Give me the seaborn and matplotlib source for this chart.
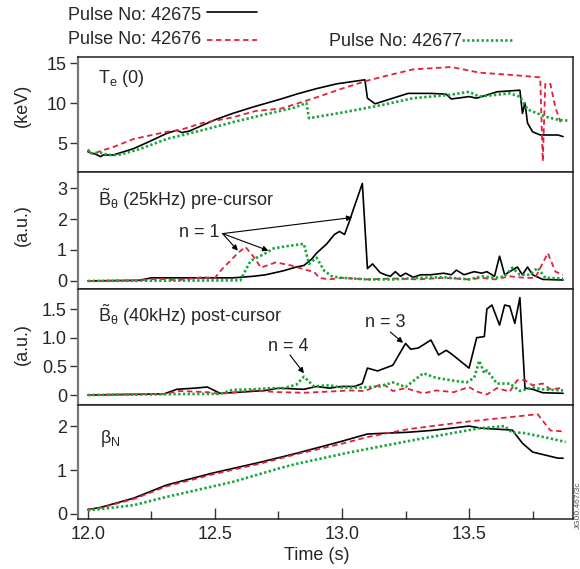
import numpy as np
import pandas as pd
import matplotlib
matplotlib.use("Agg")
import matplotlib.pyplot as plt
import seaborn as sns
from matplotlib.lines import Line2D
from matplotlib.ticker import MultipleLocator, FixedLocator

# ---------------- data ----------------
pulses = ["42675", "42676", "42677"]

# Te(0) keV
te_t_42675 = [12.00, 12.03, 12.05, 12.06, 12.10, 12.18, 12.25, 12.31, 12.35, 12.37, 12.40, 12.50, 12.57, 12.65,
              12.76, 12.82, 12.90, 12.98, 13.09, 13.10, 13.13, 13.20, 13.26, 13.35, 13.41, 13.43, 13.50, 13.53,
              13.61, 13.70, 13.71, 13.72, 13.73, 13.75, 13.78, 13.85, 13.87]
te_v_42675 = [3.9, 3.6, 3.3, 3.5, 3.5, 4.3, 5.3, 6.2, 6.6, 6.3, 6.5, 7.9, 8.7, 9.5,
              10.5, 11.1, 11.8, 12.4, 12.9, 10.6, 9.9, 10.6, 11.2, 11.2, 11.1, 10.5, 10.8, 10.6,
              11.4, 11.6, 8.7, 10.0, 7.5, 6.4, 6.0, 6.0, 5.8]
te_t_42676 = [12.00, 12.02, 12.05, 12.10, 12.18, 12.31, 12.36, 12.45, 12.57, 12.66, 12.76, 12.89, 13.00, 13.10,
              13.20, 13.28, 13.43, 13.54, 13.67, 13.78, 13.79, 13.80, 13.82, 13.84, 13.86]
te_v_42676 = [4.0, 3.6, 4.0, 4.5, 5.5, 6.4, 6.6, 7.5, 8.2, 9.0, 9.3, 10.6, 11.8, 12.8,
              13.6, 14.2, 14.5, 13.8, 13.5, 13.2, 2.7, 12.4, 12.4, 9.4, 7.6]
te_t_42677 = [12.00, 12.01, 12.05, 12.08, 12.12, 12.20, 12.31, 12.45, 12.57, 12.70, 12.81, 12.86, 12.87, 13.00,
              13.15, 13.28, 13.42, 13.50, 13.54, 13.60, 13.66, 13.70, 13.73, 13.80, 13.85, 13.89]
te_v_42677 = [4.2, 3.7, 3.8, 3.5, 3.5, 4.2, 5.5, 6.6, 7.6, 8.6, 9.4, 10.0, 8.1, 8.8,
              9.7, 10.6, 11.0, 11.4, 10.8, 11.0, 11.2, 10.8, 9.2, 8.3, 7.9, 7.8]

# B_theta 25 kHz (a.u.)
b25_t_42675 = [12.00, 12.20, 12.25, 12.40, 12.50, 12.57, 12.65, 12.70, 12.77, 12.82, 12.85, 12.88, 12.90, 12.94,
               12.97, 12.99, 13.01, 13.03, 13.04, 13.08, 13.10, 13.12, 13.15, 13.17, 13.19, 13.21, 13.23, 13.25,
               13.28, 13.31, 13.35, 13.40, 13.43, 13.45, 13.48, 13.52, 13.55, 13.57, 13.60, 13.62, 13.64, 13.69,
               13.71, 13.73, 13.75, 13.79, 13.87]
b25_v_42675 = [0.0, 0.02, 0.1, 0.1, 0.1, 0.1, 0.15, 0.2, 0.33, 0.45, 0.5, 0.7, 0.9, 1.2,
               1.5, 1.6, 1.5, 1.95, 2.2, 3.15, 0.4, 0.55, 0.27, 0.2, 0.15, 0.3, 0.15, 0.25,
               0.12, 0.2, 0.2, 0.25, 0.2, 0.35, 0.2, 0.3, 0.25, 0.3, 0.15, 0.8, 0.2, 0.45,
               0.2, 0.45, 0.2, 0.05, 0.03]
b25_t_42676 = [12.00, 12.20, 12.28, 12.35, 12.45, 12.50, 12.53, 12.59, 12.62, 12.66, 12.68, 12.74, 12.80, 12.86,
               12.89, 12.91, 12.95, 13.00, 13.10, 13.20, 13.30, 13.40, 13.50, 13.55, 13.60, 13.66, 13.72, 13.76,
               13.81, 13.84, 13.87]
b25_v_42676 = [0.0, 0.02, 0.07, 0.02, 0.12, 0.1, 0.4, 0.9, 1.1, 0.7, 0.43, 0.6, 0.5, 0.35,
               0.3, 0.1, 0.05, 0.1, 0.05, 0.08, 0.05, 0.1, 0.05, 0.1, 0.05, 0.15, 0.1, 0.1,
               0.9, 0.3, 0.2]
b25_t_42677 = [12.00, 12.60, 12.64, 12.70, 12.73, 12.78, 12.85, 12.87, 12.90, 12.93, 12.96, 13.00, 13.10, 13.20,
               13.30, 13.40, 13.50, 13.55, 13.60, 13.64, 13.67, 13.70, 13.74, 13.77, 13.80, 13.87]
b25_v_42677 = [0.0, 0.02, 0.65, 0.9, 1.05, 1.12, 1.2, 0.55, 0.75, 0.33, 0.15, 0.1, 0.05, 0.05,
               0.1, 0.12, 0.05, 0.15, 0.1, 0.15, 0.43, 0.2, 0.2, 0.43, 0.1, 0.08]

# B_theta 40 kHz (a.u.)
b40_t_42675 = [12.00, 12.30, 12.35, 12.42, 12.47, 12.52, 12.60, 12.70, 12.75, 12.85, 12.90, 12.95, 13.00, 13.05,
               13.08, 13.10, 13.14, 13.20, 13.25, 13.27, 13.30, 13.35, 13.38, 13.41, 13.43, 13.50, 13.53, 13.56,
               13.57, 13.59, 13.62, 13.64, 13.66, 13.68, 13.70, 13.72, 13.75, 13.79, 13.87]
b40_v_42675 = [0.0, 0.02, 0.1, 0.12, 0.14, 0.03, 0.05, 0.08, 0.12, 0.1, 0.15, 0.12, 0.15, 0.15,
               0.2, 0.47, 0.42, 0.52, 0.9, 0.8, 0.82, 0.96, 0.7, 0.78, 0.72, 0.47, 1.0, 1.02,
               1.5, 1.57, 1.22, 1.57, 1.55, 1.25, 1.7, 0.12, 0.1, 0.04, 0.03]
b40_t_42676 = [12.00, 12.30, 12.36, 12.47, 12.52, 12.65, 12.75, 12.85, 12.95, 13.03, 13.09, 13.16, 13.20, 13.25,
               13.32, 13.37, 13.44, 13.50, 13.53, 13.57, 13.61, 13.66, 13.69, 13.72, 13.75, 13.79, 13.82, 13.86]
b40_v_42676 = [0.0, 0.02, 0.07, 0.05, 0.02, 0.08, 0.05, 0.04, 0.06, 0.08, 0.07, 0.2, 0.07, 0.12,
               0.03, 0.08, 0.05, 0.14, 0.06, 0.01, 0.12, 0.06, 0.26, 0.26, 0.17, 0.2, 0.1, 0.12]
b40_t_42677 = [12.00, 12.45, 12.52, 12.57, 12.65, 12.72, 12.77, 12.82, 12.85, 12.89, 12.95, 13.00, 13.07, 13.15,
               13.20, 13.25, 13.32, 13.37, 13.44, 13.49, 13.52, 13.54, 13.56, 13.57, 13.61, 13.66, 13.70, 13.75,
               13.79, 13.87]
b40_v_42677 = [0.0, 0.02, 0.02, 0.09, 0.1, 0.12, 0.12, 0.18, 0.32, 0.15, 0.17, 0.13, 0.13, 0.15,
               0.22, 0.14, 0.38, 0.3, 0.25, 0.22, 0.3, 0.6, 0.38, 0.43, 0.2, 0.2, 0.07, 0.13,
               0.1, 0.08]

# beta_N
bn_t_42675 = [12.00, 12.05, 12.18, 12.31, 12.49, 12.68, 12.82, 12.99, 13.10, 13.26, 13.35, 13.50, 13.55, 13.67,
              13.71, 13.75, 13.85, 13.87]
bn_v_42675 = [0.1, 0.15, 0.36, 0.66, 0.93, 1.18, 1.38, 1.64, 1.82, 1.86, 1.9, 2.0, 1.95, 1.91,
              1.61, 1.41, 1.27, 1.27]
bn_t_42676 = [12.00, 12.05, 12.18, 12.31, 12.49, 12.68, 12.82, 13.00, 13.10, 13.26, 13.49, 13.77, 13.82, 13.87]
bn_v_42676 = [0.1, 0.14, 0.34, 0.63, 0.9, 1.15, 1.36, 1.6, 1.75, 1.93, 2.1, 2.27, 1.9, 1.88]
bn_t_42677 = [12.00, 12.18, 12.31, 12.57, 12.76, 12.82, 13.02, 13.28, 13.54, 13.64, 13.67, 13.71, 13.81, 13.88]
bn_v_42677 = [0.08, 0.2, 0.39, 0.73, 1.05, 1.14, 1.39, 1.68, 1.95, 2.0, 1.85, 1.85, 1.73, 1.64]

xtick_labels = ["12.0", "12.5", "13.0", "13.5"]

# ---------------- style ----------------
sns.set_theme(style="white")
plt.rcParams["font.family"] = ["Liberation Sans", "DejaVu Sans"]
plt.rcParams["mathtext.fontset"] = "custom"
plt.rcParams["mathtext.rm"] = "Liberation Sans"
plt.rcParams["mathtext.it"] = "Liberation Sans"
plt.rcParams["mathtext.bf"] = "Liberation Sans:bold"
plt.rcParams["mathtext.default"] = "regular"

RED = "#e3203c"
GREEN = "#16a63a"
styles = {
    "42675": dict(color="black", linewidth=1.2, linestyle="-"),
    "42676": dict(color=RED, linewidth=1.3, linestyle=(0, (3, 2))),
    "42677": dict(color=GREEN, linewidth=1.9, linestyle=(0, (0.9, 0.9))),
}

W, H = 580, 569
fig = plt.figure(figsize=(W / 100, H / 100), dpi=100)
fig.patch.set_facecolor("white")

L, R = 78, 573
bounds = [(57, 172), (172, 289), (289, 405), (405, 519)]
axes = [fig.add_axes([L / W, 1 - b / H, (R - L) / W, (b - t) / H]) for t, b in bounds]

panels = [
    ((te_t_42675, te_v_42675), (te_t_42676, te_v_42676), (te_t_42677, te_v_42677)),
    ((b25_t_42675, b25_v_42675), (b25_t_42676, b25_v_42676), (b25_t_42677, b25_v_42677)),
    ((b40_t_42675, b40_v_42675), (b40_t_42676, b40_v_42676), (b40_t_42677, b40_v_42677)),
    ((bn_t_42675, bn_v_42675), (bn_t_42676, bn_v_42676), (bn_t_42677, bn_v_42677)),
]
ylims = [(1.375, 15.75), (-0.26, 3.52), (-0.174, 1.85), (-0.114, 2.48)]
yticks = [[5, 10, 15], [0, 1, 2, 3], [0, 0.5, 1.0, 1.5], [0, 1, 2]]
yticklabels = [["5", "10", "15"], ["0", "1", "2", "3"], ["0", "0.5", "1.0", "1.5"], ["0", "1", "2"]]

for ax, series, yl, yt, ytl in zip(axes, panels, ylims, yticks, yticklabels):
    # draw in order: green, red, black? reference shows black on top mostly
    for p, (tt, vv) in zip(pulses, series):
        df = pd.DataFrame({"t": tt, "v": vv})
        sns.lineplot(data=df, x="t", y="v", ax=ax, estimator=None, sort=False,
                     legend=False, **styles[p])
    ax.set_xlim(11.961, 13.909)
    ax.set_ylim(*yl)
    ax.set_xlabel("")
    ax.set_ylabel("")
    ax.set_facecolor("white")
    ax.yaxis.set_major_locator(FixedLocator(yt))
    ax.set_yticklabels(ytl)
    ax.tick_params(axis="y", which="both", direction="out", length=6, width=1,
                   left=True, right=False, labelsize=13, pad=2, color="#333333")
    for s in ax.spines.values():
        s.set_color("#222222")
        s.set_linewidth(1.1)
    ax.spines["left"].set_color("#777777")
    ax.spines["left"].set_linewidth(1.6)

for ax in axes[:3]:
    ax.tick_params(axis="x", which="both", bottom=False, labelbottom=False)

axb = axes[3]
axb.xaxis.set_major_locator(FixedLocator([12.0, 12.5, 13.0, 13.5]))
axb.set_xticklabels(xtick_labels)
axb.xaxis.set_minor_locator(FixedLocator([12.25, 12.75, 13.25, 13.75]))
axb.tick_params(axis="x", which="major", direction="in", length=8, width=1, bottom=True,
                labelsize=13, pad=5, color="#333333")
axb.tick_params(axis="x", which="minor", direction="in", length=6, width=1, bottom=True,
                color="#333333")

# panel titles
axes[0].text(0.04, 0.81, r"$T_e$ (0)", transform=axes[0].transAxes, fontsize=13, va="center", ha="left")
axes[1].text(0.04, 0.77, r"$\tilde{B}_\theta$ (25kHz) pre-cursor", transform=axes[1].transAxes,
             fontsize=13, va="center", ha="left")
axes[2].text(0.04, 0.77, r"$\tilde{B}_\theta$ (40kHz) post-cursor", transform=axes[2].transAxes,
             fontsize=13, va="center", ha="left")
axes[3].text(0.045, 0.71, r"$\beta_N$", transform=axes[3].transAxes, fontsize=13, va="center", ha="left")

# annotations
arrow = dict(arrowstyle="-|>", lw=0.8, color="black", mutation_scale=8, shrinkA=0, shrinkB=0)
a1 = axes[1]
a1.text(12.44, 1.56, "n = 1", fontsize=13, ha="center", va="center")
for target in [(12.59, 0.98), (12.71, 0.98), (13.04, 2.05)]:
    a1.annotate("", xy=target, xytext=(12.53, 1.53), arrowprops=arrow)
a2 = axes[2]
a2.text(12.787, 0.84, "n = 4", fontsize=13, ha="center", va="center")
a2.annotate("", xy=(12.85, 0.38), xytext=(12.795, 0.70), arrowprops=arrow)
a2.text(13.17, 1.27, "n = 3", fontsize=13, ha="center", va="center")
a2.annotate("", xy=(13.24, 0.91), xytext=(13.19, 1.10), arrowprops=arrow)

# y labels and x label
fig.text(22 / W, 1 - 105 / H, "(keV)", rotation=90, fontsize=13, ha="center", va="center")
fig.text(22 / W, 1 - 225 / H, "(a.u.)", rotation=90, fontsize=13, ha="center", va="center")
fig.text(22 / W, 1 - 344 / H, "(a.u.)", rotation=90, fontsize=13, ha="center", va="center")
fig.text(317 / W, 1 - 555 / H, "Time (s)", fontsize=13, ha="center", va="center")

# legend (pulse labels with line samples)
leg = [("42675", 68, 15, 207, 257, 12), ("42676", 68, 40, 207, 257, 40), ("42677", 329, 42, 462, 512, 40)]
for p, tx, ty, x1, x2, ly in leg:
    fig.text(tx / W, 1 - ty / H, f"Pulse No: {p}", fontsize=13, ha="left", va="center")
    fig.add_artist(Line2D([x1 / W, x2 / W], [1 - ly / H, 1 - ly / H], transform=fig.transFigure,
                          **styles[p]))

fig.text(578 / W, 1 - 505 / H, "JG00.467/3c", rotation=90, fontsize=6, color="#555555",
         ha="center", va="center")

fig.savefig("out.png", dpi=100, facecolor="white")
